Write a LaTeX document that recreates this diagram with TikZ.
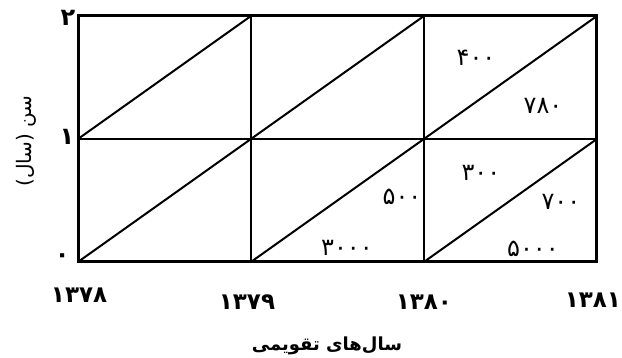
\documentclass[tikz,border=0pt]{standalone}
\usepackage{fontspec}
\newfontfamily\farsi[Script=Arabic]{DejaVu Sans}
\TeXXeTstate=1
\usetikzlibrary{positioning}

\begin{document}
\begin{tikzpicture}[
  x=173pt, y=123pt,
  frame/.style={line width=3pt},
  gridline/.style={line width=2pt},
  diag/.style={line width=2pt},
  count/.style={font=\farsi\fontsize{24}{24}\selectfont, inner sep=0pt},
  tick/.style={font=\farsi\bfseries\fontsize{24}{24}\selectfont, inner sep=0pt},
  year/.style={font=\farsi\bfseries\fontsize{23}{23}\selectfont, inner sep=0pt},
  axis/.style={font=\farsi\bfseries\fontsize{18}{18}\selectfont, inner sep=0pt}
]

% Page frame
\useasboundingbox (-0.451,-0.78) rectangle (3.145,2.13);

% Grid points (year, age)
\foreach \i in {0,...,3}
  \foreach \j in {0,1,2}
    \coordinate (p\i\j) at (\i,\j);

% Cells
\draw[gridline] (p01) -- (p31);
\draw[gridline] (p10) -- (p12);
\draw[gridline] (p20) -- (p22);
\foreach \i/\k in {0/1,1/2,2/3}
  \foreach \j/\l in {0/1,1/2}
    \draw[diag] (p\i\j) -- (p\k\l);
\draw[frame] (p00) rectangle (p32);

% Counts
\node[count] (n400)  at (2.301,1.659) {۴۰۰};
\node[count] (n780)  at (2.688,1.268) {۷۸۰};
\node[count] (n300)  at (2.329,0.724) {۳۰۰};
\node[count] (n700)  at (2.792,0.488) {۷۰۰};
\node[count] (n5000) at (2.630,0.106) {۵۰۰۰};
\node[count] (n500)  at (1.873,0.528) {۵۰۰};
\node[count] (n3000) at (1.555,0.114) {۳۰۰۰};

% Age ticks
\node[tick] (a2) at (-0.058,1.984) {۲};
\node[tick] (a1) at (-0.064,1.016) {۱};
\node[tick] (a0) at (-0.092,0.033) {۰};

% Year ticks
\node[year] (y78) at (0.006,-0.268) {۱۳۷۸};
\node[year] (y79) at (0.977,-0.325) {۱۳۷۹};
\node[year] (y80) at (2.000,-0.325) {۱۳۸۰};
\node[year] (y81) at (2.977,-0.309) {۱۳۸۱};

% Axis titles
\node[axis] (xt) at (1.439,-0.683) {\beginR سال‌های تقویمی\endR};
\node[axis, rotate=90, font=\farsi\fontsize{20}{20}\selectfont]
  (yt) at (-0.301,0.984) {\beginR سن (سال)\endR};

\end{tikzpicture}
\end{document}
